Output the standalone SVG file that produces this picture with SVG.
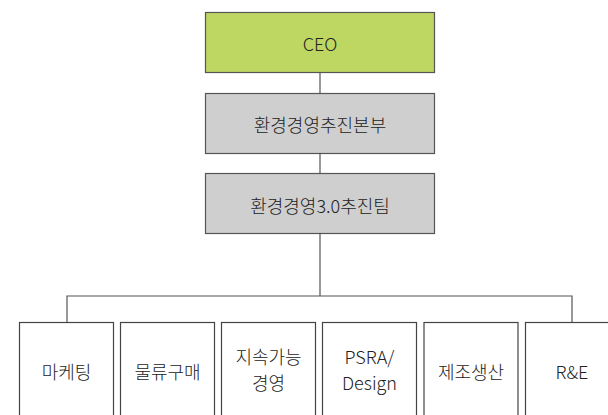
<svg xmlns="http://www.w3.org/2000/svg" width="608" height="415" viewBox="0 0 608 415">
<style>
text{font-family:"Noto Sans CJK KR","Noto Sans",sans-serif;font-weight:300;font-size:18px;fill:#222;text-anchor:middle;dominant-baseline:central}
.g{fill:#bdd762;stroke:#555;stroke-width:1.2}
.s{fill:#cfcfcf;stroke:#555;stroke-width:1.2}
.w{fill:#fff;stroke:#444;stroke-width:1.2}
.c{fill:none;stroke:#555;stroke-width:1.2}
</style>
<rect width="608" height="415" fill="#fff"/>
<g id="connectors">
<path class="c" d="M320 72V93M320 153V173M320 233V296M67 322V296H572V322"/>
</g>
<g id="ceo"><rect class="g" x="205.5" y="12.5" width="229" height="60"/><text x="320" y="43">CEO</text></g>
<g id="hq"><rect class="s" x="205.5" y="93.5" width="229" height="60"/><text x="320" y="124">환경경영추진본부</text></g>
<g id="team"><rect class="s" x="205.5" y="173.5" width="229" height="60"/><text x="320" y="205">환경경영3.0추진팀</text></g>
<g id="marketing"><rect class="w" x="19.5" y="322.5" width="94" height="100"/><text x="66.5" y="371">마케팅</text></g>
<g id="logistics"><rect class="w" x="120.5" y="322.5" width="94" height="100"/><text x="167.5" y="371">물류구매</text></g>
<g id="sustain"><rect class="w" x="221.5" y="322.5" width="94" height="100"/><text x="268.5" y="356">지속가능</text><text x="268.5" y="382">경영</text></g>
<g id="psra"><rect class="w" x="322.5" y="322.5" width="94" height="100"/><text x="369.5" y="356">PSRA/</text><text x="369.5" y="382">Design</text></g>
<g id="manufacturing"><rect class="w" x="424" y="322.5" width="94" height="100"/><text x="471" y="371">제조생산</text></g>
<g id="rne"><rect class="w" x="525.5" y="322.5" width="94" height="100"/><text x="572" y="371">R&amp;E</text></g>
</svg>
